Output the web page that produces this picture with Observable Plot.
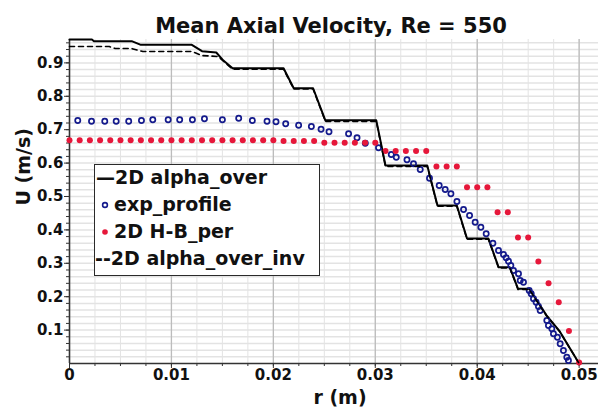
<!DOCTYPE html>
<html>
<head>
<meta charset="utf-8">
<script src="https://cdn.jsdelivr.net/npm/d3@7"></script>
<script src="https://cdn.jsdelivr.net/npm/@observablehq/plot@0.6"></script>
<style>
  html, body { margin: 0; padding: 0; background: #fff; }
  #chart { position: relative; width: 601px; height: 414px; font-family: "DejaVu Sans", sans-serif; }
  #legend {
    position: absolute; left: 94px; top: 164px; width: 226px; height: 112px;
    box-sizing: border-box; border: 1.5px solid #2a2a2a; background: #fff;
    font-weight: bold; font-size: 19px; color: #111;
  }
  .row { position: absolute; height: 27px; line-height: 27px; white-space: nowrap; }
  .sym { position: absolute; top: 9px; }
</style>
</head>
<body>
<div id="chart"></div>
<script>
// Simulated profile, 2D alpha_over (solid)
const rSolid = [0, 0.0022, 0.0024, 0.0061, 0.0070, 0.0120, 0.0130, 0.0144, 0.0151, 0.0160,
  0.0210, 0.0220, 0.0239, 0.0251, 0.0301, 0.0310, 0.0351, 0.0361, 0.0380, 0.0390,
  0.0411, 0.0421, 0.0432, 0.0440, 0.0451, 0.0468, 0.0481, 0.0500];
const uSolid = [0.970, 0.970, 0.965, 0.965, 0.954, 0.954, 0.935, 0.931, 0.907, 0.884,
  0.884, 0.824, 0.824, 0.728, 0.728, 0.593, 0.593, 0.473, 0.473, 0.374,
  0.374, 0.288, 0.288, 0.224, 0.224, 0.144, 0.096, 0.000];

// Simulated profile, 2D alpha_over_inv (dashed)
const rDashed = [0, 0.0039, 0.0045, 0.0061, 0.0072, 0.0120, 0.0130, 0.0146, 0.0160,
  0.0210, 0.0220, 0.0239, 0.0251, 0.0301, 0.0310, 0.0351, 0.0361, 0.0380, 0.0390,
  0.0411, 0.0421, 0.0432, 0.0440, 0.0451, 0.0468, 0.0481, 0.0500];
const uDashed = [0.949, 0.949, 0.943, 0.943, 0.934, 0.934, 0.922, 0.919, 0.881,
  0.881, 0.822, 0.822, 0.725, 0.725, 0.590, 0.590, 0.471, 0.471, 0.372,
  0.372, 0.286, 0.286, 0.222, 0.222, 0.143, 0.095, 0.000];

// Measured profile (exp_profile)
const rExp = [0.00081, 0.00216, 0.00346, 0.00458, 0.00581, 0.00706, 0.00817, 0.00968, 0.01081, 0.01206,
  0.01324, 0.0150, 0.0166, 0.01794, 0.01938, 0.02026, 0.02121, 0.02248, 0.02373, 0.02468,
  0.02546, 0.02738, 0.02821, 0.02902, 0.03032, 0.03157, 0.03206, 0.03311, 0.03375, 0.03441,
  0.03532, 0.03627, 0.03686, 0.03742, 0.03801, 0.03866, 0.03925, 0.0398, 0.04036, 0.04088,
  0.04154, 0.04209, 0.04258, 0.04284, 0.04307, 0.0433, 0.04356, 0.04405, 0.04422, 0.04454,
  0.0451, 0.0453, 0.04552, 0.04578, 0.04601, 0.04618, 0.04683, 0.04699, 0.04732, 0.04748,
  0.04787, 0.04814, 0.04846, 0.04879, 0.04895];
const uExp = [0.7275, 0.7254, 0.7254, 0.7254, 0.7254, 0.7275, 0.7296, 0.7296, 0.7296, 0.7296,
  0.7326, 0.7296, 0.7344, 0.7275, 0.7254, 0.7237, 0.7177, 0.7135, 0.7096, 0.7015,
  0.6937, 0.6877, 0.6757, 0.6596, 0.6458, 0.6257, 0.6177, 0.6099, 0.5979, 0.5808,
  0.5548, 0.5329, 0.5210, 0.5081, 0.4850, 0.4611, 0.4431, 0.4231, 0.4081, 0.3883,
  0.3602, 0.3383, 0.3263, 0.3165, 0.3063, 0.2934, 0.2784, 0.2686, 0.2485, 0.2434,
  0.2186, 0.2087, 0.1937, 0.1835, 0.1707, 0.1587, 0.1287, 0.1138, 0.1039, 0.0889,
  0.0787, 0.0590, 0.0389, 0.0189, 0.0090];

// 2D H-B_per, one value per cell
const rHB = [0, 0.001, 0.002, 0.003, 0.004, 0.005, 0.006, 0.007, 0.008, 0.009,
  0.010, 0.011, 0.012, 0.013, 0.014, 0.015, 0.016, 0.017, 0.018, 0.019,
  0.020, 0.021, 0.022, 0.023, 0.024, 0.025, 0.026, 0.027, 0.028, 0.029,
  0.030, 0.031, 0.032, 0.033, 0.034, 0.035, 0.036, 0.037, 0.038, 0.039,
  0.040, 0.041, 0.042, 0.043, 0.044, 0.045, 0.046, 0.047, 0.048, 0.049, 0.050];
const uHB = [0.668, 0.668, 0.668, 0.668, 0.668, 0.668, 0.668, 0.668, 0.668, 0.668,
  0.668, 0.668, 0.668, 0.668, 0.668, 0.668, 0.668, 0.668, 0.668, 0.668,
  0.668, 0.666, 0.666, 0.666, 0.666, 0.661, 0.661, 0.661, 0.661, 0.661,
  0.661, 0.636, 0.636, 0.636, 0.636, 0.636, 0.590, 0.590, 0.590, 0.528,
  0.528, 0.528, 0.453, 0.453, 0.377, 0.377, 0.305, 0.240, 0.183, 0.097, 0.003];

// Axis ticks and labels
const xMajor = [0, 0.01, 0.02, 0.03, 0.04, 0.05];
const xLabels = ["0", "0.01", "0.02", "0.03", "0.04", "0.05"];
const yMajor = [0.1, 0.2, 0.3, 0.4, 0.5, 0.6, 0.7, 0.8, 0.9];
const yLabels = ["0.1", "0.2", "0.3", "0.4", "0.5", "0.6", "0.7", "0.8", "0.9"];
const xMinor = d3.range(0, 21).map(i => +(i * 0.0025).toFixed(4));
const yMinor = d3.range(1, 49).map(i => +(i * 0.02).toFixed(2));

const title = "Mean Axial Velocity, Re = 550";
const xTitle = "r (m)";
const yTitle = "U (m/s)";

const zip = (rs, us) => rs.map((r, i) => ({r, u: us[i]}));
const solid = zip(rSolid, uSolid);
const dashed = zip(rDashed, uDashed);
const expData = zip(rExp, uExp);
const hb = zip(rHB, uHB);

const chart = Plot.plot({
  width: 601,
  height: 414,
  marginLeft: 69,
  marginRight: 3,
  marginTop: 39,
  marginBottom: 51,
  style: {fontFamily: "'DejaVu Sans', sans-serif", fontWeight: "bold", fontSize: "15px", color: "#111", background: "#fff", overflow: "visible"},
  x: {domain: [0, 0.0519], label: null},
  y: {domain: [0, 0.97], label: null},
  marks: [
    Plot.gridY(yMinor, {stroke: "#e3e3e3", strokeOpacity: 1, strokeWidth: 1.5}),
    Plot.gridX(xMinor, {stroke: "#e3e3e3", strokeOpacity: 1, strokeWidth: 1}),
    Plot.gridX(xMajor, {stroke: "#bcbcbc", strokeOpacity: 1, strokeWidth: 1.3}),
    Plot.axisY(yMinor, {tickSize: 3, text: null, stroke: "#333", label: null}),
    Plot.axisY(yMajor, {tickSize: 5, tickPadding: 1, stroke: "#333", label: null,
      tickFormat: d => yLabels[yMajor.indexOf(d)], fontSize: 15, fontWeight: "bold"}),
    Plot.axisX(xMinor, {tickSize: 3, text: null, stroke: "#333", label: null}),
    Plot.axisX(xMajor, {tickSize: 5, tickPadding: 1, stroke: "#333", label: null,
      tickFormat: d => xLabels[xMajor.indexOf(d)], fontSize: 15, fontWeight: "bold"}),
    Plot.ruleX([0], {stroke: "#333", strokeWidth: 1.5}),
    Plot.ruleY([0], {stroke: "#333", strokeWidth: 1.5}),
    Plot.line(solid, {x: "r", y: "u", stroke: "#000", strokeWidth: 2}),
    Plot.dot(expData, {x: "r", y: "u", r: 2.6, stroke: "#141a8c", strokeWidth: 1.7, fill: "none"}),
    Plot.dot(hb, {x: "r", y: "u", r: 3, fill: "#e6173a", stroke: "none"}),
    Plot.line(dashed, {x: "r", y: "u", stroke: "#000", strokeWidth: 1.6, strokeDasharray: "5,4"}),
    Plot.text([title], {frameAnchor: "top", dx: -3, dy: -21, fontSize: 21, fontWeight: "bold", fill: "#111"}),
    Plot.text([yTitle], {frameAnchor: "left", rotate: -90, dx: -46, dy: 4, fontSize: 19, fontWeight: "bold", fill: "#111"}),
    Plot.text([xTitle], {frameAnchor: "bottom", dx: 6, dy: 40, fontSize: 19, fontWeight: "bold", fill: "#111"})
  ]
});

const host = document.getElementById("chart");
host.appendChild(chart);

// Legend box drawn over the plot area
const legend = document.createElement("div");
legend.id = "legend";
legend.innerHTML = `
  <div class="row" style="left:1px; top:-1px">—2D alpha_over</div>
  <div class="row" style="left:0; top:26px">
    <svg class="sym" width="10" height="10" style="left:5px"><circle cx="5" cy="5" r="2.4" fill="none" stroke="#141a8c" stroke-width="1.6"/></svg>
    <span style="position:absolute; left:19px">exp_profile</span>
  </div>
  <div class="row" style="left:0; top:53px">
    <svg class="sym" width="10" height="10" style="left:5px"><circle cx="5" cy="5" r="2.8" fill="#e6173a"/></svg>
    <span style="position:absolute; left:19px">2D H‑B_per</span>
  </div>
  <div class="row" style="left:0; top:80px">--2D alpha_over_inv</div>`;
host.appendChild(legend);
</script>
</body>
</html>
